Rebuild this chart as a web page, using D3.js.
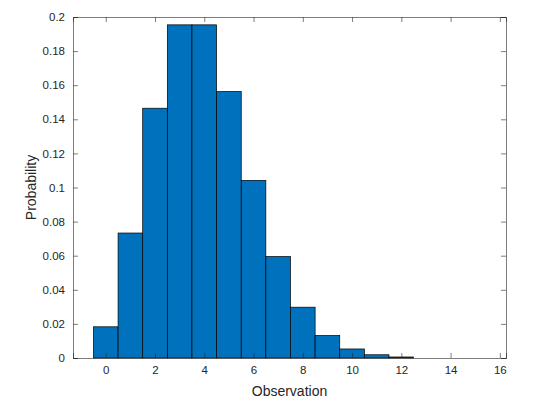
<!DOCTYPE html>
<html><head><meta charset="utf-8">
<script src="https://cdn.jsdelivr.net/npm/d3@7"></script>
<style>body{margin:0;background:#fff}</style></head>
<body><svg id="c" width="546" height="405"></svg>
<script>
const observations = [0,1,2,3,4,5,6,7,8,9,10,11,12];
const probabilities = [0.0183,0.0733,0.1465,0.1954,0.1954,0.1563,0.1042,0.0595,0.0298,0.0132,0.0053,0.0019,0.0006];
const xTicks = [0,2,4,6,8,10,12,14,16];
const yTicks = [0,0.02,0.04,0.06,0.08,0.1,0.12,0.14,0.16,0.18,0.2];

const svg = d3.select("#c");
const L=73,R=506,T=17,B=358;
const x = d3.scaleLinear().domain([-1.33,16.25]).range([L,R]);
const y = d3.scaleLinear().domain([0,0.2]).range([B,T]);
const font = "Liberation Sans, Arial, sans-serif";

svg.append("g").selectAll("rect").data(observations).join("rect")
  .attr("x",d=>x(d-0.5)).attr("width",d=>x(d+0.5)-x(d-0.5))
  .attr("y",(d,i)=>y(probabilities[i])).attr("height",(d,i)=>B-y(probabilities[i]))
  .attr("fill","#0072BD").attr("stroke","#000").attr("stroke-width",0.7);

const gx = svg.append("g").attr("transform",`translate(0,${B})`)
  .call(d3.axisBottom(x).tickValues(xTicks).tickSize(-5).tickPadding(8).tickFormat(d3.format("d")));
const gx2 = svg.append("g").attr("transform",`translate(0,${T})`)
  .call(d3.axisTop(x).tickValues(xTicks).tickSize(-5).tickFormat(""));
const gy = svg.append("g").attr("transform",`translate(${L},0)`)
  .call(d3.axisLeft(y).tickValues(yTicks).tickSize(-5).tickPadding(8).tickFormat(d=>d===0?"0":String(+d.toFixed(2))));
const gy2 = svg.append("g").attr("transform",`translate(${R},0)`)
  .call(d3.axisRight(y).tickValues(yTicks).tickSize(-5).tickFormat(""));
[gx,gx2,gy,gy2].forEach(g=>{
  g.select(".domain").attr("stroke","#262626").attr("stroke-width",0.6);
  g.selectAll(".tick line").attr("stroke","#262626").attr("stroke-width",0.6);
  g.selectAll("text").attr("font-family",font).attr("font-size",11.5).attr("fill","#262626");
});
svg.append("text").attr("x",(L+R)/2).attr("y",396).attr("text-anchor","middle")
  .attr("font-family",font).attr("font-size",14).attr("fill","#262626").text("Observation");
svg.append("text").attr("transform",`translate(36,${(T+B)/2}) rotate(-90)`).attr("text-anchor","middle")
  .attr("font-family",font).attr("font-size",14).attr("fill","#262626").text("Probability");
</script></body></html>
